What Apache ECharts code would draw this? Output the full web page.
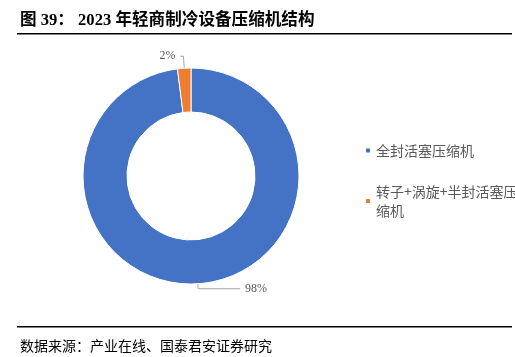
<!DOCTYPE html>
<html><head><meta charset="utf-8">
<script src="https://cdn.jsdelivr.net/npm/echarts@6/dist/echarts.min.js"></script>
<style>html,body{margin:0;padding:0;background:#fff}#c{width:515px;height:357px}</style>
</head><body><div id="c"></div>
<script>
const titleText = '图 39： 2023 年轻商制冷设备压缩机结构';
const sourceText = '数据来源：产业在线、国泰君安证券研究';
const categories = ['全封活塞压缩机', '转子+涡旋+半封活塞压缩机'];
const values = [98, 2];
const colors = ['#4472C4', '#ED7D31'];

const chart = echarts.init(document.getElementById('c'));
chart.setOption({
  animation: false,
  color: colors,
  title: [
    {text: titleText, left: 15, top: 7,
     textStyle: {fontSize: 16.6, fontWeight: 'bold', color: '#000', fontFamily: '"Liberation Serif","Noto Sans CJK SC"'}},
    {text: sourceText, left: 15, top: 334,
     textStyle: {fontSize: 14, fontWeight: 'normal', color: '#000', fontFamily: '"Noto Sans CJK SC"'}}
  ],
  graphic: [
    {type: 'rect', shape: {x: 17, y: 33, width: 495, height: 1.5}, style: {fill: '#000'}},
    {type: 'rect', shape: {x: 17, y: 326, width: 495, height: 1.5}, style: {fill: '#000'}}
  ],
  legend: {
    orient: 'vertical', left: 359, top: 136, itemGap: 22,
    itemWidth: 6, itemHeight: 6, icon: 'rect',
    textStyle: {fontSize: 14, color: '#595959', width: 150, overflow: 'break', lineHeight: 19,
                fontFamily: '"Noto Sans CJK SC"'},
    data: categories
  },
  series: [{
    type: 'pie',
    center: [191, 176],
    radius: [64, 108],
    startAngle: 90,
    clockwise: true,
    itemStyle: {borderColor: '#fff', borderWidth: 1},
    label: {
      show: true, position: 'outside',
      formatter: '{d}%',
      fontSize: 12, color: '#595959', fontFamily: '"Liberation Serif"'
    },
    labelLine: {show: true, length: 8, length2: 12, lineStyle: {color: '#A6A6A6', width: 1}},
    data: categories.map((n, i) => ({
      name: n, value: values[i],
      labelLine: i === 0 ? {length: 5, length2: 42} : {length: 12, length2: 3}
    }))
  }]
});
</script></body></html>
